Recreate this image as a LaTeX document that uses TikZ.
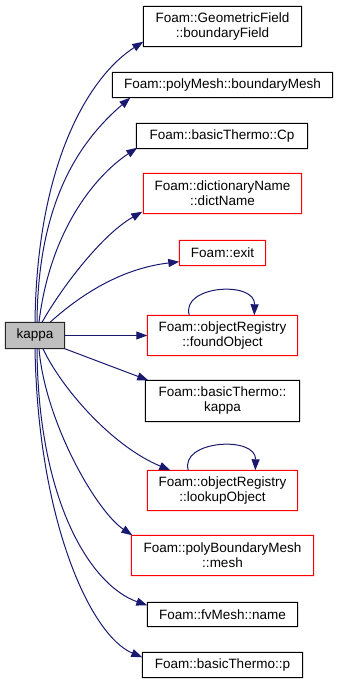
\documentclass[tikz,border=0pt]{standalone}
\usepackage{fontspec}
\setmainfont{Liberation Sans}
\usetikzlibrary{arrows.meta,calc}
\definecolor{edgeblue}{HTML}{191970}
\definecolor{curfill}{HTML}{BFBFBF}
\definecolor{linkred}{RGB}{255,0,0}
\begin{document}
\begin{tikzpicture}[x=1bp,y=-1bp,
  box/.style={fill=white, inner sep=0pt, align=center,
    font=\fontsize{13.5bp}{15bp}\selectfont},
  curbox/.style={box, fill=curfill},
  call/.style={color=edgeblue, line width=1bp, -{Triangle[length=11bp,width=8bp]}}]
\useasboundingbox (0,0) rectangle (337,683);

% the function itself
\node[curbox, minimum width=59bp, minimum height=26bp] (kappa) at (35,335.5) {kappa};

% callees
\node[box, minimum width=158bp, minimum height=40bp] (geo) at (222.5,26.5) {Foam::GeometricField\\::boundaryField};
\node[box, minimum width=220bp, minimum height=25bp] (bmesh) at (222.5,85) {Foam::polyMesh::boundaryMesh};
\node[box, minimum width=171bp, minimum height=25bp] (cp) at (222,136) {Foam::basicThermo::Cp};
\node[box, minimum width=158bp, minimum height=40bp] (dict) at (222.5,193.5) {Foam::dictionaryName\\::dictName};
\node[box, minimum width=86bp, minimum height=25bp] (exit) at (222.5,253) {Foam::exit};
\node[box, minimum width=150bp, minimum height=40bp] (found) at (222.5,335.5) {Foam::objectRegistry\\::foundObject};
\node[box, minimum width=154bp, minimum height=41bp] (bkappa) at (222.5,401) {Foam::basicThermo::\\kappa};
\node[box, minimum width=150bp, minimum height=40bp] (lookup) at (222.5,490.5) {Foam::objectRegistry\\::lookupObject};
\node[box, minimum width=182bp, minimum height=40bp] (pbm) at (222.5,555.5) {Foam::polyBoundaryMesh\\::mesh};
\node[box, minimum width=150bp, minimum height=24bp] (name) at (222.5,614.5) {Foam::fvMesh::name};
\node[box, minimum width=160bp, minimum height=25bp] (p) at (222.5,665) {Foam::basicThermo::p};

% box outlines as 1bp rings: undocumented members in red, documented ones in black
\foreach \n/\c in {dict/linkred,exit/linkred,found/linkred,lookup/linkred,pbm/linkred,
                   geo/black,bmesh/black,cp/black,bkappa/black,name/black,p/black,kappa/black!85}
  \fill[fill=\c, even odd rule]
    ($(\n.south west)+(-0.5,0.5)$) rectangle ($(\n.north east)+(0.5,-0.5)$)
    ($(\n.south west)+(0.5,-0.5)$) rectangle ($(\n.north east)+(-0.5,0.5)$);

% calls leaving the top of kappa
\draw[call] (kappa.north) .. controls +(2,-162) and +(-53,34) .. ($(geo.south west)+(0,-5)$);
\draw[call] ($(kappa.north)+(2,0)$) .. controls +(1,-122) and +(-50,43) .. ($(bmesh.south west)+(18,0)$);
\draw[call] ($(kappa.north)+(4,0)$) .. controls +(11,-92) and +(-42,28) .. ($(cp.south west)+(1,-1)$);
\draw[call] ($(kappa.north)+(7,0)$) .. controls +(18,-32) and +(-42,24) .. ($(dict.south west)+(-1,-2)$);
\draw[call] ($(kappa.north)+(15,0)$) .. controls +(30,-27) and +(-59,7) .. ($(exit.south west)+(0,-4)$);

% straight calls to the right
\draw[call] (kappa.east) -- (found.west);
\draw[call] (kappa.south east) -- ($(bkappa.north west)+(3,0)$);

% calls leaving the bottom of kappa
\draw[call] ($(kappa.south)+(8,0)$) .. controls +(17,37) and +(-60,-25) .. ($(lookup.north west)+(23,0)$);
\draw[call] ($(kappa.south)+(4,0)$) .. controls +(6,72) and +(-37,-25) .. ($(pbm.north west)+(1,0)$);
\draw[call] ($(kappa.south)+(2,0)$) .. controls +(1,152) and +(-57,-20) .. ($(name.north west)+(0,3)$);
\draw[call] (kappa.south) .. controls +(3,172) and +(-52,-22) .. ($(p.north west)+(0,5)$);

% recursive calls
\draw[call] ($(found.north west)+(42,0)$) .. controls +(-9,-30) and +(1,-35) .. ($(found.north west)+(107,0)$);
\draw[call] ($(lookup.north west)+(41,0)$) .. controls +(-9,-30) and +(1,-35) .. ($(lookup.north west)+(108,0)$);
\end{tikzpicture}
\end{document}
